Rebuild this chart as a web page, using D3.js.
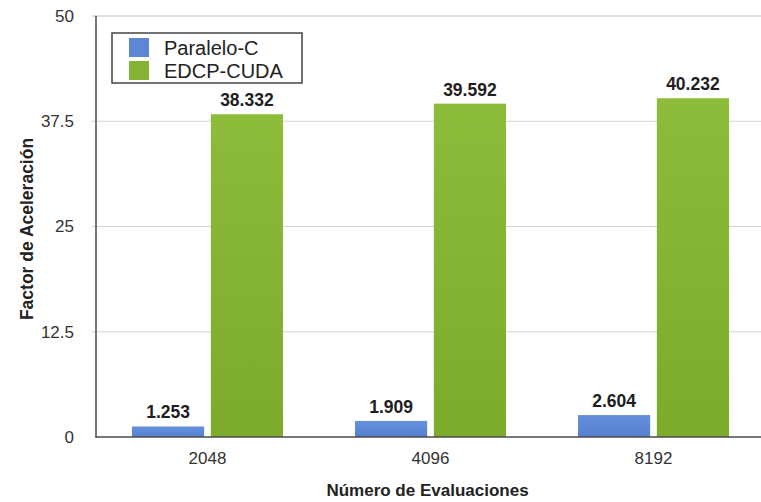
<!DOCTYPE html>
<html>
<head>
<meta charset="utf-8">
<script src="https://cdn.jsdelivr.net/npm/d3@7"></script>
<style>
  html, body { margin: 0; padding: 0; background: #fff; }
  svg { display: block; }
  text { font-family: "Liberation Sans", Arial, Helvetica, sans-serif; }
</style>
</head>
<body>
<svg id="chart" width="761" height="502"></svg>
<script>
// Evaluation counts (categories) and speed-up factors per implementation
const categories = ["2048", "4096", "8192"];
const seriesNames = ["Paralelo-C", "EDCP-CUDA"];
const paraleloC = [1.253, 1.909, 2.604];
const edcpCuda = [38.332, 39.592, 40.232];
const yTicks = [0, 12.5, 25, 37.5, 50];
const yTickLabels = ["0", "12.5", "25", "37.5", "50"];
const colors = ["#5b87d5", "#84b232"];

const seriesValues = [paraleloC, edcpCuda];
const rows = categories.map((c, i) => ({
  cat: c,
  values: seriesNames.map((s, j) => ({ series: s, idx: j, value: seriesValues[j][i] }))
}));

const svg = d3.select("#chart");
const plotLeft = 96, plotRight = 765, plotTop = 16, plotBottom = 437;

const x0 = d3.scaleBand().domain(categories).range([plotLeft, plotRight])
  .paddingInner(0.323).paddingOuter(0.1615);
const x1 = d3.scaleBand().domain(seriesNames).range([0, x0.bandwidth()]).paddingInner(0.085);
const y = d3.scaleLinear().domain([0, 50]).range([plotBottom, plotTop]);

// bar gradients
const defs = svg.append("defs");
const grads = [["#6590dc", "#5580cf"], ["#8dbb3a", "#7cab2b"]];
grads.forEach((g, i) => {
  const lg = defs.append("linearGradient").attr("id", "g" + i)
    .attr("x1", 0).attr("y1", 0).attr("x2", 0).attr("y2", 1);
  lg.append("stop").attr("offset", "0%").attr("stop-color", g[0]);
  lg.append("stop").attr("offset", "100%").attr("stop-color", g[1]);
});

// horizontal gridlines
svg.append("g")
  .selectAll("line")
  .data(yTicks.filter(d => d > 0))
  .join("line")
  .attr("x1", plotLeft - 4).attr("x2", 761)
  .attr("y1", d => y(d)).attr("y2", d => y(d))
  .attr("stroke", d => d === 50 ? "#bdbdbd" : "#d4d4d4")
  .attr("stroke-width", 1.2);

// y tick labels
const yAxis = d3.axisLeft(y).tickValues(yTicks)
  .tickFormat((d, i) => yTickLabels[i]).tickSize(0).tickPadding(22);
const gy = svg.append("g").attr("transform", `translate(${plotLeft},0)`).call(yAxis);
gy.select(".domain").remove();
gy.selectAll("text").attr("font-size", 17).attr("fill", "#333")
  .style("font-family", "'Liberation Sans', Arial, sans-serif");

// bars
const groups = svg.append("g").selectAll("g")
  .data(rows).join("g")
  .attr("transform", d => `translate(${x0(d.cat)},0)`);

groups.selectAll("rect")
  .data(d => d.values).join("rect")
  .attr("x", d => x1(d.series))
  .attr("y", d => y(d.value))
  .attr("width", x1.bandwidth())
  .attr("height", d => y(0) - y(d.value))
  .attr("fill", d => `url(#g${d.idx})`);

// value labels
groups.selectAll("text.val")
  .data(d => d.values).join("text")
  .attr("class", "val")
  .attr("x", d => x1(d.series) + x1.bandwidth() / 2)
  .attr("y", d => y(d.value) - 8)
  .attr("text-anchor", "middle")
  .attr("font-size", 17.5)
  .attr("font-weight", "bold")
  .attr("fill", "#1e1e1e")
  .attr("stroke", "#ffffff").attr("stroke-width", 2.5).attr("paint-order", "stroke")
  .text(d => d.value.toFixed(3));

// axis lines
svg.append("line").attr("x1", plotLeft).attr("x2", plotLeft)
  .attr("y1", plotTop).attr("y2", plotBottom + 0.5)
  .attr("stroke", "#4a4a4a").attr("stroke-width", 1.5);
svg.append("line").attr("x1", plotLeft - 0.5).attr("x2", 761)
  .attr("y1", plotBottom).attr("y2", plotBottom)
  .attr("stroke", "#4a4a4a").attr("stroke-width", 1.6);

// x tick labels
const xAxis = d3.axisBottom(x0).tickSize(0).tickPadding(15);
const gx = svg.append("g").attr("transform", `translate(0,${plotBottom})`).call(xAxis);
gx.select(".domain").remove();
gx.selectAll("text").attr("font-size", 17).attr("fill", "#333")
  .style("font-family", "'Liberation Sans', Arial, sans-serif");

// axis titles
svg.append("text")
  .attr("x", (plotLeft + plotRight) / 2 - 3).attr("y", 496)
  .attr("text-anchor", "middle")
  .attr("font-size", 17).attr("font-weight", "bold").attr("fill", "#222")
  .text("Número de Evaluaciones");

svg.append("text")
  .attr("transform", "translate(33,229) rotate(-90)")
  .attr("text-anchor", "middle")
  .attr("font-size", 17.5).attr("font-weight", "bold").attr("fill", "#222")
  .text("Factor de Aceleración");

// legend
const legend = svg.append("g");
legend.append("rect")
  .attr("x", 112).attr("y", 33).attr("width", 190).attr("height", 50)
  .attr("fill", "#fff").attr("stroke", "#444").attr("stroke-width", 1.5);
seriesNames.forEach((s, i) => {
  legend.append("rect")
    .attr("x", 129).attr("y", 38 + i * 23).attr("width", 20).attr("height", 19)
    .attr("fill", colors[i]);
  legend.append("text")
    .attr("x", 164).attr("y", 55 + i * 23)
    .attr("font-size", 20).attr("fill", "#222")
    .text(s);
});
</script>
</body>
</html>
